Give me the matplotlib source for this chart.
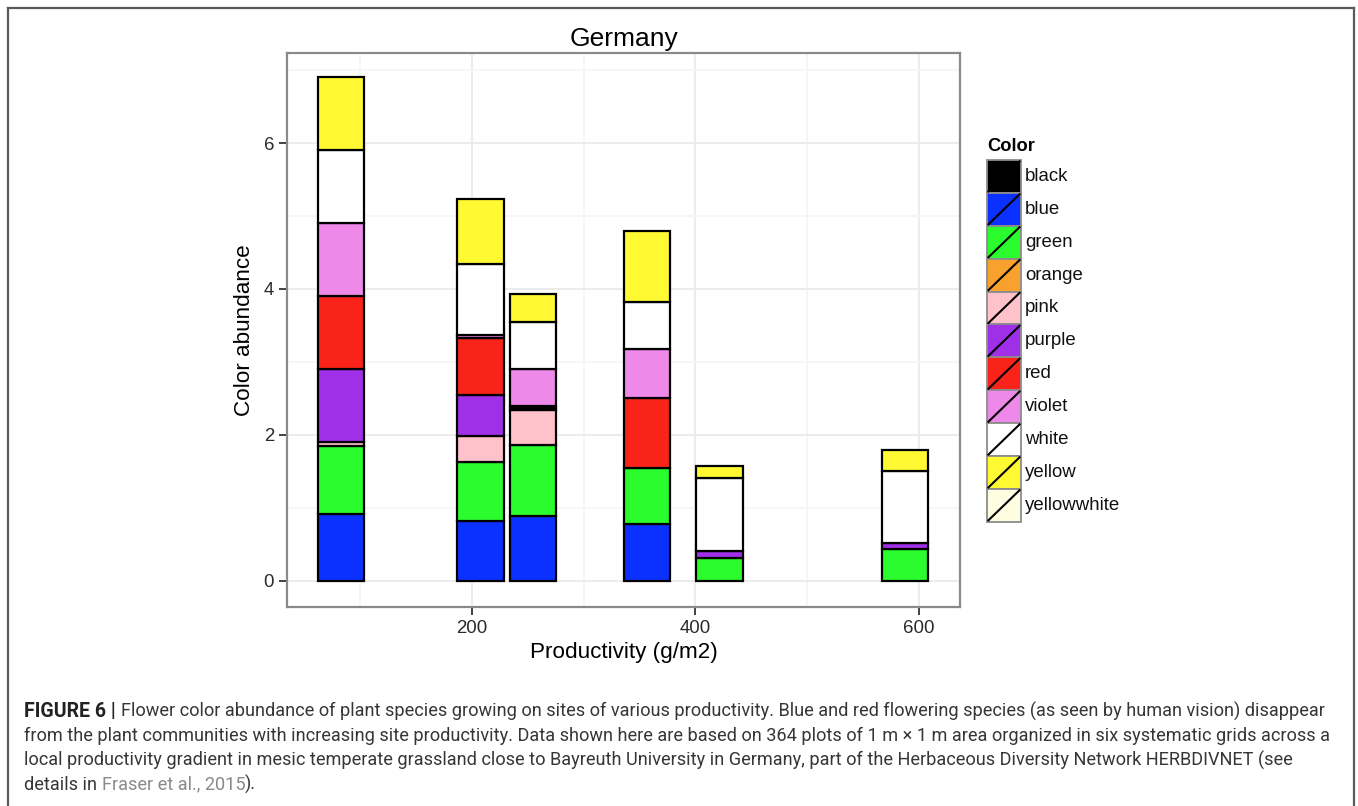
import matplotlib
matplotlib.use("Agg")
import matplotlib.pyplot as plt
from matplotlib.patches import Rectangle
from matplotlib.lines import Line2D
from matplotlib import font_manager
import numpy as np

# ---------------- data ----------------
sites = [82.5, 207.5, 254.5, 357.0, 421.5, 588.0]   # productivity (g/m2)
bar_width = 41.5

legend_levels = ["black", "blue", "green", "orange", "pink", "purple",
                 "red", "violet", "white", "yellow", "yellowwhite"]
stack_order = ["blue", "green", "pink", "black", "purple", "red",
               "violet", "white", "yellow"]

blue   = [0.91, 0.82, 0.88, 0.77, 0.00, 0.00]
green  = [0.93, 0.80, 0.98, 0.78, 0.31, 0.43]
pink   = [0.06, 0.36, 0.48, 0.00, 0.00, 0.00]
black  = [0.00, 0.00, 0.055, 0.00, 0.00, 0.00]
purple = [1.00, 0.57, 0.00, 0.00, 0.09, 0.08]
red    = [1.00, 0.77, 0.00, 0.96, 0.00, 0.00]
violet = [1.00, 0.05, 0.50, 0.66, 0.00, 0.00]
white  = [1.00, 0.97, 0.65, 0.65, 1.01, 1.00]
yellow = [1.00, 0.89, 0.38, 0.98, 0.165, 0.28]
orange = [0.0] * 6
yellowwhite = [0.0] * 6

x_ticks = [200, 400, 600]
y_ticks = [0, 2, 4, 6]

title = "Germany"
x_label = "Productivity (g/m2)"
y_label = "Color abundance"
legend_title = "Color"

caption_lines = [
    [("FIGURE 6 | ", "bold", "#222222"),
     ("Flower color abundance of plant species growing on sites of various productivity. "
      "Blue and red flowering species (as seen by human vision) disappear", "normal", "#363636")],
    [("from the plant communities with increasing site productivity. Data shown here are based on "
      "364 plots of 1 m \u00d7 1 m area organized in six systematic grids across a", "normal", "#363636")],
    [("local productivity gradient in mesic temperate grassland close to Bayreuth University in Germany, "
      "part of the Herbaceous Diversity Network HERBDIVNET (see", "normal", "#363636")],
    [("details in ", "normal", "#363636"), ("Fraser et al., 2015", "normal", "#8a8a8a"),
     (").", "normal", "#363636")],
]

values = {"black": black, "blue": blue, "green": green, "orange": orange,
          "pink": pink, "purple": purple, "red": red, "violet": violet,
          "white": white, "yellow": yellow, "yellowwhite": yellowwhite}

fills = {"black": "#000000", "blue": "#0A31FF", "green": "#2BFC2E",
         "orange": "#F8A12C", "pink": "#FFC1CA", "purple": "#A030E8",
         "red": "#FA2319", "violet": "#EE88E9", "white": "#FFFFFF",
         "yellow": "#FFF933", "yellowwhite": "#FFFDE1"}

# ---------------- figure ----------------
W, H = 1358, 806
DPI = 100
fig = plt.figure(figsize=(W / DPI, H / DPI), dpi=DPI)
fig.patch.set_facecolor("white")

FONT = "Liberation Sans"
plt.rcParams["font.family"] = [FONT, "DejaVu Sans"]


def fx(px):
    return px / W


def fy(py):
    return 1 - py / H


# outer frame (left, top, right)
frame_col = "#5a5a5a"
fig.add_artist(Line2D([fx(8), fx(8)], [fy(8), 0], color=frame_col, lw=1.6,
                      transform=fig.transFigure))
fig.add_artist(Line2D([fx(8), fx(1354)], [fy(8), fy(8)], color=frame_col, lw=1.6,
                      transform=fig.transFigure))
fig.add_artist(Line2D([fx(1354), fx(1354)], [fy(8), 0], color=frame_col, lw=1.6,
                      transform=fig.transFigure))

# main panel
pl, pr, pt, pb = 287.3, 960.0, 53.3, 606.7
ax = fig.add_axes([fx(pl), fy(pb), fx(pr) - fx(pl), fy(pt) - fy(pb)])
ax.set_facecolor("white")

bottoms = np.zeros(len(sites))
for name in stack_order:
    v = np.array(values[name], dtype=float)
    mask = v > 0
    ax.bar(np.array(sites)[mask], v[mask], width=bar_width, bottom=bottoms[mask],
           color=fills[name], edgecolor="black", linewidth=1.6, zorder=3)
    bottoms += v

ax.set_xlim(34.6, 637.0)
ax.set_ylim(-0.357, 7.23)
ax.set_xticks(x_ticks)
ax.set_yticks(y_ticks)
ax.set_xticks([100, 300, 500], minor=True)
ax.set_yticks([1, 3, 5, 7], minor=True)
ax.set_axisbelow(True)
ax.grid(which="major", color="#EBEBEB", lw=1.3, zorder=0)
ax.grid(which="minor", color="#F6F6F6", lw=1.3, zorder=0)
for s in ax.spines.values():
    s.set_color("#8a8a8a")
    s.set_linewidth(1.6)
ax.tick_params(which="major", length=6, width=1.3, color="#333333",
               labelsize=13.4, labelcolor="#2a2a2a", pad=3.5)
ax.tick_params(which="minor", length=0)

ax.set_xlabel(x_label, fontsize=16.2, color="black", labelpad=4)
ax.set_ylabel(y_label, fontsize=16.2, color="black", labelpad=6)
ax.set_title(title, fontsize=19, color="black", pad=5)

# ---------------- legend ----------------
kx0, kx1 = 987.0, 1021.0
ky0, ky1 = 160.0, 521.7
lax = fig.add_axes([fx(kx0), fy(ky1), fx(kx1) - fx(kx0), fy(ky0) - fy(ky1)])
lax.set_xlim(0, 1)
lax.set_ylim(len(legend_levels), 0)
lax.axis("off")
for i, name in enumerate(legend_levels):
    lax.add_patch(Rectangle((0, i), 1, 1, facecolor=fills[name], edgecolor="#8c8c8c",
                            lw=1.3, clip_on=False))
    lax.plot([0.02, 0.98], [i + 0.98, i + 0.02], color="black", lw=1.5,
             solid_capstyle="butt", clip_on=False)
    fig.text(fx(1025), fy(ky0 + (i + 0.5) * (ky1 - ky0) / len(legend_levels)), name,
             fontsize=13.4, color="#111111", va="center", ha="left")
fig.text(fx(987), fy(151), legend_title, fontsize=13.2, fontweight="bold",
         color="black", va="baseline", ha="left")

# ---------------- caption ----------------
cap_font = FONT
for cand in ["Liberation Sans Narrow", "Roboto"]:
    try:
        font_manager.findfont(font_manager.FontProperties(family=cand),
                              fallback_to_default=False)
        cap_font = cand
        break
    except Exception:
        pass

fig.canvas.draw()
renderer = fig.canvas.get_renderer()


def piece_width(txt, weight, size):
    t = fig.text(0, 0, txt, fontsize=size, fontweight=weight, family=[cap_font, "DejaVu Sans"])
    w = t.get_window_extent(renderer).width
    t.remove()
    return w


base = 10.0
# regular text sized so that line 2 spans ~1302 px; bold label ~107 px
reg_size = base * 1302.0 / piece_width(caption_lines[1][0][0], "normal", base)
bold_size = base * 107.0 / piece_width(caption_lines[0][0][0], "bold", base)
bold_size = min(bold_size, reg_size * 1.08)

baselines = [716.7, 741.0, 765.3, 789.6]
for line, yb in zip(caption_lines, baselines):
    x = 24.0
    for txt, wgt, col in line:
        size = bold_size if wgt == "bold" else reg_size
        t = fig.text(fx(x), fy(yb), txt, fontsize=size, fontweight=wgt, color=col,
                     family=[cap_font, "DejaVu Sans"], va="baseline", ha="left")
        x += t.get_window_extent(renderer).width

fig.savefig("out.png", dpi=DPI, facecolor="white")
